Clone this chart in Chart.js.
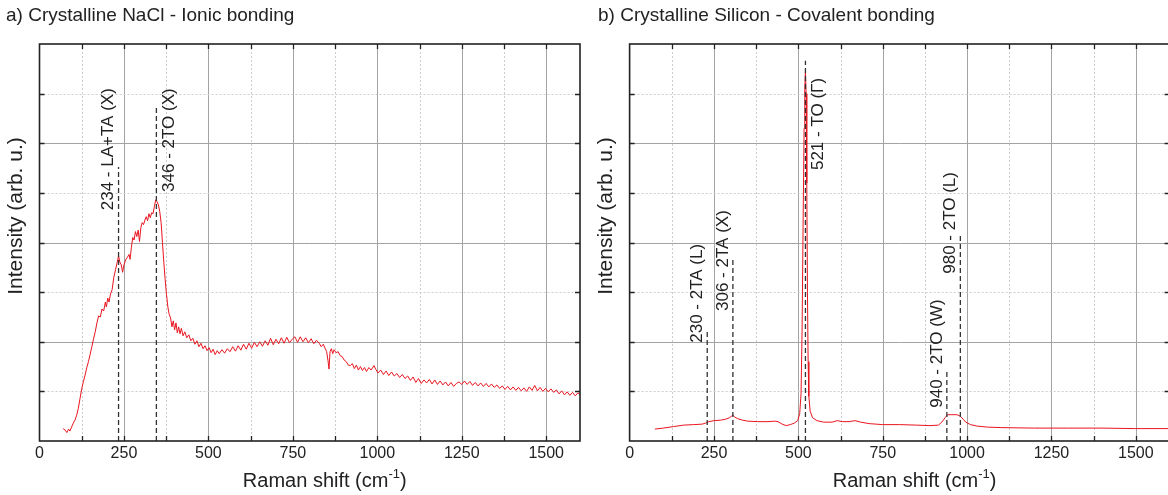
<!DOCTYPE html>
<html>
<head>
<meta charset="utf-8">
<script src="https://cdn.jsdelivr.net/npm/chart.js@4.4.1/dist/chart.umd.min.js"></script>
<style>
  html, body { margin: 0; padding: 0; background: #fff; overflow: hidden; }
  #wrap { position: relative; width: 1168px; height: 495px; overflow: hidden; }
  canvas { position: absolute; top: 0; }
  #nacl { left: 0; }
  #si { left: 590px; }
</style>
</head>
<body>
<div id="wrap">
  <canvas id="nacl" width="600" height="495"></canvas>
  <canvas id="si" width="600" height="495"></canvas>
</div>
<script>
const FONT = "'Liberation Sans', Arial, Helvetica, sans-serif";
const TEXT_COLOR = "#222";
const LINE_RED = "#e8151f";

// shared axis ticks
const xTicks = [0, 250, 500, 750, 1000, 1250, 1500];
const xMinorStep = 125;
const yMax = 8;

// a) NaCl spectrum
const naclShift = [70, 76, 81, 86, 90, 95, 100, 105, 110, 115, 120, 125, 130, 135, 140, 145, 150, 155, 160, 165,
  170, 175, 180, 185, 190, 195, 198, 202, 206, 210, 215, 220, 225, 230, 234, 238, 242, 246, 250, 255,
  260, 265, 268, 272, 276, 280, 284, 288, 292, 296, 300, 304, 308, 312, 316, 320, 324, 328, 332, 336,
  340, 344, 348, 352, 356, 360, 364, 368, 372, 376, 380, 384, 388, 392, 396, 400, 404, 408, 412, 416,
  420, 425, 430, 436, 442, 448, 454, 460, 466, 472, 478, 484, 490, 496, 502, 508, 514, 520, 526, 532,
  540, 548, 556, 564, 572, 580, 588, 596, 604, 612, 620, 628, 636, 644, 652, 660, 668, 676, 684, 692,
  700, 708, 716, 724, 732, 740, 748, 756, 764, 772, 780, 788, 796, 804, 812, 820, 828, 834, 840, 846,
  850, 854, 857, 860, 864, 868, 872, 878, 884, 890, 896, 902, 908, 914, 920, 926, 932, 938, 944, 950,
  956, 962, 968, 975, 982, 990, 996, 1002, 1010, 1018, 1026, 1034, 1042, 1050, 1058, 1066, 1074, 1082, 1090, 1098,
  1106, 1114, 1122, 1130, 1138, 1146, 1154, 1162, 1170, 1178, 1186, 1194, 1202, 1210, 1218, 1226, 1234, 1242, 1250, 1258,
  1266, 1274, 1282, 1290, 1298, 1306, 1314, 1322, 1330, 1338, 1346, 1354, 1362, 1370, 1378, 1386, 1394, 1402, 1410, 1418,
  1426, 1434, 1442, 1450, 1458, 1466, 1474, 1482, 1490, 1498, 1506, 1514, 1522, 1530, 1538, 1546, 1554, 1562, 1570, 1578,
  1586, 1594, 1600];
const naclIntensity = [0.25, 0.22, 0.17, 0.24, 0.2, 0.28, 0.36, 0.42, 0.52, 0.66, 0.86, 1.05, 1.2, 1.33, 1.48, 1.6, 1.75, 1.9, 2.06, 2.2,
  2.38, 2.52, 2.5, 2.66, 2.62, 2.8, 2.7, 2.88, 2.8, 2.96, 3.05, 3.3, 3.45, 3.6, 3.73, 3.6, 3.55, 3.4, 3.55, 3.65,
  3.7, 3.76, 3.66, 3.9, 4.1, 4.05, 4.22, 4.12, 4.25, 4.02, 4.3, 4.4, 4.36, 4.45, 4.52, 4.44, 4.58, 4.5, 4.6, 4.58,
  4.72, 4.86, 4.82, 4.76, 4.62, 4.4, 4.0, 3.6, 3.25, 2.95, 2.7, 2.55, 2.48, 2.3, 2.42, 2.24, 2.38, 2.18, 2.3, 2.16,
  2.27, 2.12, 2.2, 2.08, 2.14, 2.02, 2.07, 1.95, 2.02, 1.9, 1.97, 1.86, 1.92, 1.82, 1.88, 1.78, 1.85, 1.74, 1.82, 1.76,
  1.84, 1.77, 1.86, 1.8, 1.9, 1.81, 1.92, 1.83, 1.95, 1.85, 1.97, 1.87, 1.99, 1.9, 2.0, 1.91, 2.02, 1.93, 2.07, 1.94,
  2.05, 1.96, 2.08, 1.97, 2.09, 1.98, 2.05, 2.1, 1.99, 2.1, 2.0, 2.08, 1.98, 2.06, 1.96, 2.03, 1.97, 1.9, 1.95, 1.86,
  1.8, 1.62, 1.45, 1.8, 1.86, 1.76, 1.84, 1.78, 1.8, 1.72, 1.7, 1.63, 1.6, 1.53, 1.52, 1.56, 1.46, 1.53, 1.43, 1.5,
  1.42, 1.48, 1.4, 1.48, 1.43, 1.52, 1.44, 1.37, 1.43, 1.34, 1.41, 1.32, 1.39, 1.31, 1.36, 1.28, 1.34, 1.26, 1.31, 1.22,
  1.29, 1.18, 1.26, 1.16, 1.23, 1.17, 1.24, 1.15, 1.23, 1.14, 1.21, 1.13, 1.19, 1.11, 1.18, 1.1, 1.16, 1.19, 1.14, 1.21,
  1.14, 1.2, 1.12, 1.18, 1.11, 1.17, 1.1, 1.16, 1.09, 1.15, 1.08, 1.13, 1.06, 1.11, 1.04, 1.1, 1.03, 1.09, 1.02, 1.08,
  1.01, 1.07, 1.0, 1.09, 1.02, 1.12, 1.01, 1.08, 1.0, 1.06, 0.99, 1.05, 0.98, 1.03, 0.95, 1.01, 0.93, 0.99, 0.92, 0.98,
  0.91, 0.97, 0.94];
const naclPeaks = [234, 346];
const naclPeakTop = [5.52, 6.77];
const naclLabels = ["234 - LA+TA (X)", "346 - 2TO (X)"];
const naclLabelStart = [4.65, 5.02];
const naclLabelSide = [-1, 1];

// b) Silicon spectrum
const siShift = [75, 100, 130, 160, 190, 215, 225, 235, 250, 270, 285, 296, 302, 306, 312, 320, 335, 350, 380, 410,
  430, 440, 452, 464, 476, 488, 498, 504, 508, 511, 514, 517, 519, 521, 523, 525, 527, 529, 531, 535,
  542, 555, 575, 600, 615, 630, 650, 668, 685, 710, 750, 800, 850, 890, 915, 925, 935, 942, 955, 970,
  980, 988, 996, 1010, 1030, 1060, 1100, 1200, 1300, 1400, 1500, 1600];
const siIntensity = [0.24, 0.26, 0.29, 0.32, 0.33, 0.34, 0.36, 0.39, 0.41, 0.42, 0.44, 0.47, 0.5, 0.52, 0.48, 0.45, 0.42, 0.4, 0.39, 0.39,
  0.4, 0.39, 0.34, 0.31, 0.33, 0.36, 0.41, 0.55, 0.95, 2.2, 4.3, 6.3, 7.1, 7.45, 7.0, 5.2, 3.0, 1.6, 0.9, 0.6,
  0.47, 0.41, 0.38, 0.38, 0.41, 0.39, 0.39, 0.41, 0.38, 0.35, 0.33, 0.33, 0.32, 0.31, 0.32, 0.38, 0.47, 0.53, 0.53, 0.53,
  0.5, 0.44, 0.38, 0.33, 0.3, 0.28, 0.27, 0.26, 0.26, 0.26, 0.25, 0.25];
const siPeaks = [230, 306, 521, 940, 980];
const siPeakTop = [2.25, 3.66, 7.66, 1.41, 4.13];
const siLabels = ["230 - 2TA (L)", "306 - 2TA (X)", "521 - TO (Γ)", "940 - 2TO (W)", "980 - 2TO (L)"];
const siLabelStart = [1.98, 2.62, 5.46, 0.67, 3.37];
const siLabelSide = [-1, -1, 1, -1, -1];

function toPoints(xs, ys) {
  return xs.map((x, i) => ({ x, y: ys[i] }));
}

function drawGrid(chart) {
  const { ctx, chartArea: area, scales: { x, y } } = chart;
  ctx.save();
  ctx.lineWidth = 1;
  for (let v = xMinorStep; v < x.max; v += xMinorStep) {
    const px = Math.round(x.getPixelForValue(v)) + 0.5;
    const major = v % 250 === 0;
    ctx.strokeStyle = major ? "#a3a3a3" : "#cdcdcd";
    ctx.setLineDash(major ? [] : [2, 2]);
    ctx.beginPath();
    ctx.moveTo(px, area.top);
    ctx.lineTo(px, area.bottom);
    ctx.stroke();
  }
  for (let v = 1; v < yMax; v++) {
    const py = Math.round(y.getPixelForValue(v)) + 0.5;
    const major = v % 2 === 0;
    ctx.strokeStyle = major ? "#a3a3a3" : "#cdcdcd";
    ctx.setLineDash(major ? [] : [2, 2]);
    ctx.beginPath();
    ctx.moveTo(area.left, py);
    ctx.lineTo(area.right, py);
    ctx.stroke();
  }
  ctx.restore();
}

function drawFrame(chart) {
  const { ctx, chartArea: area, scales: { x, y } } = chart;
  ctx.save();
  ctx.strokeStyle = TEXT_COLOR;
  ctx.lineWidth = 1.3;
  for (let v = xMinorStep; v < x.max; v += xMinorStep) {
    const px = Math.round(x.getPixelForValue(v)) + 0.5;
    ctx.beginPath();
    ctx.moveTo(px, area.top);
    ctx.lineTo(px, area.top + 5);
    ctx.moveTo(px, area.bottom);
    ctx.lineTo(px, area.bottom - 5);
    ctx.stroke();
  }
  for (let v = 1; v < yMax; v++) {
    const py = Math.round(y.getPixelForValue(v)) + 0.5;
    ctx.beginPath();
    ctx.moveTo(area.left, py);
    ctx.lineTo(area.left + 5, py);
    ctx.moveTo(area.right, py);
    ctx.lineTo(area.right - 5, py);
    ctx.stroke();
  }
  ctx.lineWidth = 1.6;
  ctx.strokeRect(area.left, area.top, area.right - area.left, area.bottom - area.top);
  ctx.restore();
}

function drawPeakMarks(chart, panel) {
  const { ctx, scales: { x, y } } = chart;
  ctx.save();
  ctx.strokeStyle = "#333";
  ctx.lineWidth = 1.3;
  ctx.setLineDash([5, 3]);
  panel.peaks.forEach((p, i) => {
    const px = x.getPixelForValue(p);
    ctx.beginPath();
    ctx.moveTo(px, y.getPixelForValue(0));
    ctx.lineTo(px, y.getPixelForValue(panel.peakTop[i]));
    ctx.stroke();
  });
  ctx.setLineDash([]);
  ctx.fillStyle = TEXT_COLOR;
  ctx.font = `17px ${FONT}`;
  ctx.textAlign = "left";
  ctx.textBaseline = "middle";
  panel.labels.forEach((text, i) => {
    const side = panel.labelSide[i];
    const px = x.getPixelForValue(panel.peaks[i]) + side * (side > 0 ? 13 : 10);
    const py = y.getPixelForValue(panel.labelStart[i]);
    ctx.save();
    ctx.translate(px, py);
    ctx.rotate(-Math.PI / 2);
    ctx.fillText(text, 0, 0);
    ctx.restore();
  });
  ctx.restore();
}

function drawTexts(chart, panel) {
  const { ctx, chartArea: area } = chart;
  ctx.save();
  ctx.fillStyle = TEXT_COLOR;

  ctx.font = `19px ${FONT}`;
  ctx.textAlign = "left";
  ctx.textBaseline = "middle";
  ctx.fillText(panel.title, panel.titleX, 16);

  // y axis title
  ctx.font = `21px ${FONT}`;
  ctx.textAlign = "center";
  ctx.save();
  ctx.translate(area.left - 23, 216);
  ctx.rotate(-Math.PI / 2);
  ctx.fillText("Intensity (arb. u.)", 0, 0);
  ctx.restore();

  // x axis title with superscript
  const main = "Raman shift (cm";
  const sup = "-1";
  ctx.textAlign = "left";
  ctx.textBaseline = "alphabetic";
  ctx.font = `20px ${FONT}`;
  const w1 = ctx.measureText(main).width;
  const w3 = ctx.measureText(")").width;
  ctx.font = `13px ${FONT}`;
  const w2 = ctx.measureText(sup).width;
  const cx = (area.left + area.right) / 2 + 15;
  let tx = cx - (w1 + w2 + w3) / 2;
  const base = 487;
  ctx.font = `20px ${FONT}`;
  ctx.fillText(main, tx, base);
  tx += w1;
  ctx.font = `13px ${FONT}`;
  ctx.fillText(sup, tx, base - 9);
  tx += w2;
  ctx.font = `20px ${FONT}`;
  ctx.fillText(")", tx, base);
  ctx.restore();
}

function makePanelPlugin(panel) {
  return {
    id: "panelDecor",
    beforeDatasetsDraw(chart) {
      drawGrid(chart);
    },
    afterDatasetsDraw(chart) {
      drawPeakMarks(chart, panel);
      drawFrame(chart);
      drawTexts(chart, panel);
    }
  };
}

function buildChart(canvasId, panel) {
  const canvas = document.getElementById(canvasId);
  return new Chart(canvas, {
    type: "line",
    data: {
      datasets: [{
        data: toPoints(panel.shift, panel.intensity),
        borderColor: LINE_RED,
        borderWidth: 1,
        pointRadius: 0,
        tension: 0,
        fill: false
      }]
    },
    options: {
      responsive: false,
      animation: false,
      parsing: false,
      layout: { padding: { left: 0, right: panel.padRight, top: 44, bottom: 0 } },
      plugins: {
        legend: { display: false },
        tooltip: { enabled: false },
        title: { display: false }
      },
      scales: {
        x: {
          type: "linear",
          min: 0,
          max: 1600,
          afterBuildTicks: scale => { scale.ticks = xTicks.map(v => ({ value: v })); },
          afterFit: scale => { scale.height = 54; },
          ticks: {
            font: { family: FONT, size: 16 },
            color: TEXT_COLOR,
            padding: 3,
            maxRotation: 0,
            autoSkip: false,
            callback: value => String(value)
          },
          grid: { display: false, drawTicks: false },
          border: { display: false }
        },
        y: {
          type: "linear",
          min: 0,
          max: yMax,
          afterFit: scale => { scale.width = panel.axisWidth; },
          ticks: { display: false },
          grid: { display: false, drawTicks: false },
          border: { display: false }
        }
      }
    },
    plugins: [makePanelPlugin(panel)]
  });
}

buildChart("nacl", {
  title: "a) Crystalline NaCl - Ionic bonding",
  titleX: 6,
  axisWidth: 39.5,
  padRight: 20,
  shift: naclShift,
  intensity: naclIntensity,
  peaks: naclPeaks,
  peakTop: naclPeakTop,
  labels: naclLabels,
  labelStart: naclLabelStart,
  labelSide: naclLabelSide
});

buildChart("si", {
  title: "b) Crystalline Silicon - Covalent bonding",
  titleX: 8,
  axisWidth: 39.6,
  padRight: 20.4,
  shift: siShift,
  intensity: siIntensity,
  peaks: siPeaks,
  peakTop: siPeakTop,
  labels: siLabels,
  labelStart: siLabelStart,
  labelSide: siLabelSide
});
</script>
</body>
</html>
